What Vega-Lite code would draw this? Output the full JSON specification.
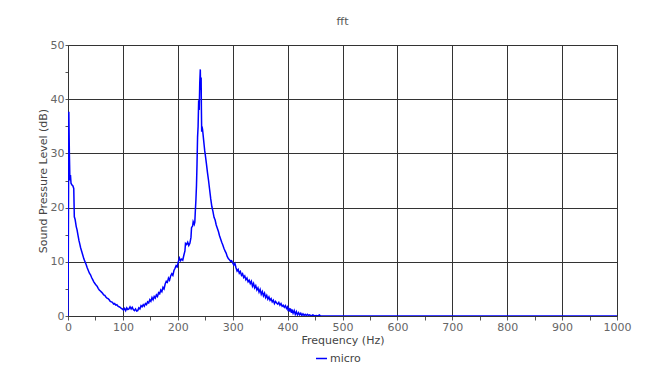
{
  "$schema": "https://vega.github.io/schema/vega-lite/v6.json",
  "autosize": {"type": "none"},
  "padding": {"left": 68, "top": 45, "right": 33, "bottom": 71},
  "width": 549,
  "height": 271,
  "title": {"text": "fft", "fontSize": 11, "fontWeight": "normal", "color": "#555555", "offset": 12},
  "data": {"values": [
    {"f":0,"db":0},{"f":0.5,"db":9.4},{"f":1.5,"db":37.7},{"f":2.5,"db":30},{"f":3.5,"db":25},{"f":4.5,"db":26},{"f":5.5,"db":24.5},{"f":7,"db":24.2},{"f":9,"db":24},{"f":10.5,"db":23.5},{"f":11.5,"db":18.3},{"f":13,"db":17.8},{"f":15,"db":16.5},{"f":16.5,"db":15.9},{"f":18,"db":15},{"f":20,"db":13.9},{"f":21,"db":13.5},{"f":23,"db":12.6},{"f":25,"db":11.9},{"f":27,"db":11.2},{"f":29,"db":10.5},{"f":31,"db":10},{"f":33,"db":9.5},{"f":35,"db":8.9},{"f":37,"db":8.4},{"f":39,"db":7.9},{"f":41,"db":7.6},{"f":43,"db":7.1},{"f":45,"db":6.7},{"f":47,"db":6.3},{"f":49,"db":6},{"f":51,"db":5.7},{"f":53,"db":5.5},{"f":55,"db":5.1},{"f":57,"db":4.8},{"f":59,"db":4.6},{"f":61,"db":4.4},{"f":63,"db":4.2},{"f":65,"db":3.9},{"f":67,"db":3.8},{"f":69,"db":3.5},{"f":71,"db":3.3},{"f":73,"db":3.2},{"f":75,"db":3.0},{"f":77,"db":2.7},{"f":79,"db":2.6},{"f":81,"db":2.5},{"f":83,"db":2.2},{"f":85,"db":2.3},{"f":87,"db":2.0},{"f":89,"db":2.1},{"f":91,"db":1.8},{"f":93,"db":1.7},{"f":95,"db":1.6},{"f":97,"db":1.4},{"f":99,"db":1.3},{"f":101,"db":1.1},{"f":103,"db":1.4},{"f":105,"db":1.0},{"f":107,"db":1.5},{"f":109,"db":1.2},{"f":111,"db":1.3},{"f":113,"db":1.7},{"f":115,"db":1.3},{"f":117,"db":1.6},{"f":119,"db":1.2},{"f":121,"db":1.0},{"f":123,"db":1.3},{"f":125,"db":0.9},{"f":127,"db":1.0},{"f":129,"db":1.5},{"f":131,"db":1.3},{"f":133,"db":1.9},{"f":135,"db":1.7},{"f":137,"db":2.1},{"f":139,"db":1.8},{"f":141,"db":2.3},{"f":143,"db":2.1},{"f":145,"db":2.6},{"f":147,"db":2.4},{"f":149,"db":3.0},{"f":151,"db":2.7},{"f":153,"db":3.4},{"f":155,"db":3.0},{"f":157,"db":3.6},{"f":159,"db":3.3},{"f":161,"db":3.9},{"f":163,"db":3.6},{"f":165,"db":4.3},{"f":167,"db":4.1},{"f":169,"db":4.8},{"f":171,"db":4.5},{"f":173,"db":5.3},{"f":175,"db":5.0},{"f":177,"db":5.9},{"f":179,"db":6.4},{"f":181,"db":6.2},{"f":183,"db":7.0},{"f":185,"db":6.6},{"f":187,"db":7.4},{"f":189,"db":7.8},{"f":191,"db":7.5},{"f":193,"db":8.4},{"f":195,"db":8.8},{"f":197,"db":9.3},{"f":199,"db":9.1},{"f":201,"db":10.0},{"f":203,"db":10.7},{"f":205,"db":10.2},{"f":207,"db":10.5},{"f":209,"db":10.3},{"f":211,"db":11.2},{"f":213,"db":12.0},{"f":214,"db":13.4},{"f":216,"db":13.2},{"f":218,"db":13.6},{"f":220,"db":13.0},{"f":222,"db":13.4},{"f":224,"db":14.5},{"f":225,"db":16.3},{"f":227,"db":16.6},{"f":228,"db":17.4},{"f":230,"db":16.9},{"f":231,"db":17.3},{"f":232,"db":19.5},{"f":233,"db":21.4},{"f":234,"db":24},{"f":235,"db":28},{"f":236,"db":33},{"f":237,"db":35},{"f":238,"db":39.8},{"f":239,"db":38},{"f":240,"db":43},{"f":241,"db":45.5},{"f":241.5,"db":42},{"f":242,"db":41.7},{"f":242.5,"db":44},{"f":243,"db":38},{"f":243.5,"db":34},{"f":244,"db":35},{"f":245,"db":34.5},{"f":246,"db":33.5},{"f":247,"db":32.5},{"f":248,"db":31.5},{"f":249,"db":30.5},{"f":250,"db":29.8},{"f":252,"db":28.2},{"f":254,"db":26.5},{"f":256,"db":25},{"f":258,"db":23.3},{"f":260,"db":21.6},{"f":262,"db":20.2},{"f":264,"db":19.3},{"f":266,"db":18.2},{"f":268,"db":17.7},{"f":270,"db":16.8},{"f":272,"db":16.2},{"f":274,"db":15.6},{"f":276,"db":14.8},{"f":278,"db":14.2},{"f":280,"db":13.6},{"f":282,"db":13.1},{"f":284,"db":12.5},{"f":286,"db":12.0},{"f":288,"db":11.6},{"f":290,"db":11.0},{"f":292,"db":10.6},{"f":294,"db":10.4},{"f":296,"db":10.1},{"f":298,"db":10.2},{"f":300,"db":9.8},{"f":302,"db":9.4},{"f":304,"db":9.7},{"f":306,"db":8.9},{"f":308,"db":8.3},{"f":310,"db":8.6},{"f":312,"db":7.9},{"f":314,"db":8.2},{"f":316,"db":7.5},{"f":318,"db":7.8},{"f":320,"db":7.1},{"f":322,"db":7.4},{"f":324,"db":6.7},{"f":326,"db":7.0},{"f":328,"db":6.3},{"f":330,"db":6.6},{"f":332,"db":6.0},{"f":334,"db":6.4},{"f":336,"db":5.5},{"f":338,"db":6.0},{"f":340,"db":5.2},{"f":342,"db":5.6},{"f":344,"db":4.8},{"f":346,"db":5.2},{"f":348,"db":4.4},{"f":350,"db":4.9},{"f":352,"db":4.0},{"f":354,"db":4.5},{"f":356,"db":3.7},{"f":358,"db":4.2},{"f":360,"db":3.4},{"f":362,"db":3.8},{"f":364,"db":3.1},{"f":366,"db":3.5},{"f":368,"db":2.9},{"f":370,"db":3.2},{"f":372,"db":2.6},{"f":374,"db":2.9},{"f":376,"db":2.3},{"f":378,"db":2.7},{"f":380,"db":2.4},{"f":382,"db":2.2},{"f":384,"db":2.5},{"f":386,"db":2.0},{"f":388,"db":2.3},{"f":390,"db":1.8},{"f":392,"db":2.0},{"f":394,"db":1.6},{"f":396,"db":1.9},{"f":398,"db":1.4},{"f":400,"db":1.7},{"f":401,"db":0.9},{"f":402,"db":1.5},{"f":404,"db":0.8},{"f":405,"db":1.4},{"f":407,"db":0.6},{"f":408,"db":1.2},{"f":410,"db":0.5},{"f":412,"db":1.0},{"f":414,"db":0.3},{"f":416,"db":0.8},{"f":418,"db":0.2},{"f":420,"db":0.6},{"f":422,"db":0.2},{"f":424,"db":0.5},{"f":426,"db":0.1},{"f":428,"db":0.4},{"f":430,"db":0.1},{"f":432,"db":0.3},{"f":434,"db":0.1},{"f":436,"db":0.3},{"f":438,"db":0.1},{"f":440,"db":0.2},{"f":443,"db":0.0},{"f":446,"db":0.2},{"f":449,"db":0.0},{"f":452,"db":0.1},{"f":455,"db":0.0},{"f":458,"db":0.2},{"f":460,"db":0},{"f":1000,"db":0}
  ]},
  "mark": {"type": "line", "strokeWidth": 1.5, "clip": true},
  "encoding": {
    "x": {"field": "f", "type": "quantitative", "scale": {"domain": [0, 1000], "nice": false},
      "axis": {"title": "Frequency (Hz)", "format": "d", "values": [0,50,100,150,200,250,300,350,400,450,500,550,600,650,700,750,800,850,900,950,1000],
        "labelExpr": "datum.value % 100 === 0 ? datum.label : ''",
        "gridOpacity": {"condition": {"test": "datum.value % 100 === 0", "value": 1}, "value": 0},
        "tickSize": 4, "labelPadding": 1, "titlePadding": 2}},
    "y": {"field": "db", "type": "quantitative", "scale": {"domain": [0, 50], "nice": false},
      "axis": {"title": "Sound Pressure Level (dB)", "format": "d", "values": [0,5,10,15,20,25,30,35,40,45,50],
        "labelExpr": "datum.value % 10 === 0 ? datum.label : ''",
        "gridOpacity": {"condition": {"test": "datum.value % 10 === 0", "value": 1}, "value": 0},
        "tickSize": 3, "labelPadding": 1, "titlePadding": 2}},
    "color": {"datum": "micro", "scale": {"range": ["#0000ff"]},
      "legend": {"title": null, "orient": "none", "legendX": 247, "legendY": 307, "symbolType": "stroke", "symbolSize": 120, "symbolStrokeWidth": 1.5, "labelFontSize": 11, "labelColor": "#444", "labelOffset": 2}}
  },
  "config": {
    "font": "DejaVu Sans",
    "view": {"stroke": "#333"},
    "axis": {"labelColor": "#666", "labelFontSize": 11, "titleColor": "#444", "titleFontSize": 11, "titleFontWeight": "normal",
      "gridColor": "#333", "domainColor": "#333", "tickColor": "#555", "labelFlush": false}
  }
}
